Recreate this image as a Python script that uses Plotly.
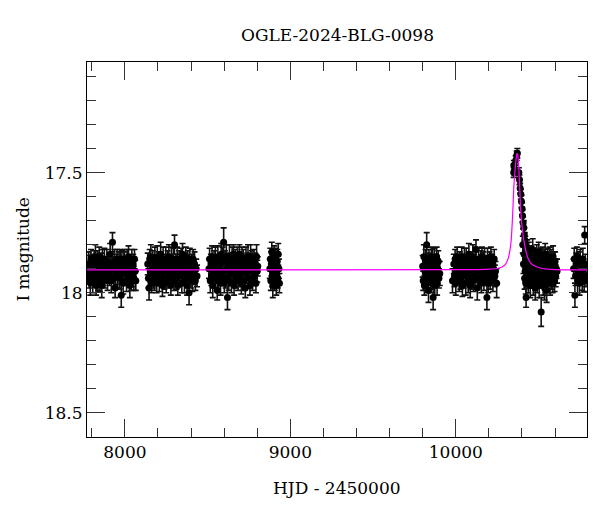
import plotly.graph_objects as go

# OGLE light curve (HJD - 2450000, I mag, error)
hjd_s1 = [7776, 7780, 7784, 7787, 7791, 7795, 7799, 7803, 7806, 7810,
          7814, 7818, 7822, 7826, 7829, 7833, 7837, 7841, 7845, 7849,
          7852, 7856, 7860, 7864, 7868, 7872, 7876, 7879, 7883, 7887,
          7891, 7895, 7899, 7903, 7907, 7911, 7915, 7918, 7922, 7925,
          7929, 7933, 7937, 7941, 7945, 7949, 7953, 7957, 7961, 7965,
          7969, 7973, 7976, 7978, 7982, 7986, 7990, 7994, 7998, 8002,
          8006, 8010, 8014, 8018, 8022, 8026, 8030, 8034, 8038, 8042,
          8046, 8050, 8054, 8058, 8062, 8066]
mag_s1 = [17.91, 17.88, 17.94, 17.89, 17.96, 17.86, 17.92, 17.88, 17.95, 17.90,
          17.87, 17.93, 17.85, 17.97, 17.90, 17.87, 17.94, 17.91, 17.85, 17.95,
          17.92, 17.88, 17.97, 17.86, 17.93, 17.90, 17.86, 17.94, 17.89, 17.91,
          17.87, 17.95, 17.91, 17.88, 17.93, 17.84, 17.90, 17.95, 17.88, 17.79,
          17.89, 17.94, 17.87, 17.98, 17.92, 17.88, 17.86, 17.93, 17.90, 17.87,
          17.94, 17.86, 17.90, 18.01, 17.87, 17.92, 17.96, 17.88, 17.86, 17.91,
          17.90, 17.95, 17.87, 17.93, 17.85, 17.89, 17.97, 17.91, 17.95, 17.87,
          17.93, 17.88, 17.94, 17.86, 17.91, 17.95]
err_s1 = [.04, .05, .04, .045, .05, .04, .045, .04, .05, .04,
          .045, .04, .05, .04, .04, .045, .05, .04, .04, .045,
          .04, .045, .05, .04, .04, .05, .045, .04, .04, .045,
          .05, .04, .045, .04, .04, .045, .04, .05, .04, .04,
          .04, .045, .05, .04, .045, .04, .04, .05, .045, .04,
          .045, .04, .04, .05, .045, .04, .045, .05, .04, .04,
          .04, .045, .05, .04, .045, .04, .05, .045, .04, .05,
          .045, .04, .05, .04, .045, .04]

hjd_s2 = [8138, 8142, 8146, 8150, 8154, 8157, 8161, 8165, 8169, 8173,
          8177, 8181, 8185, 8188, 8192, 8196, 8200, 8204, 8208, 8212,
          8216, 8219, 8223, 8227, 8231, 8235, 8239, 8243, 8247, 8250,
          8254, 8258, 8262, 8266, 8270, 8274, 8278, 8281, 8285, 8289,
          8293, 8297, 8300, 8304, 8308, 8312, 8316, 8320, 8324, 8328,
          8332, 8336, 8340, 8344, 8348, 8352, 8356, 8360, 8364, 8368,
          8372, 8376, 8380, 8384, 8388, 8392, 8396, 8400, 8404, 8408,
          8412, 8417, 8421, 8426, 8431, 8436]
mag_s2 = [17.88, 17.94, 17.98, 17.86, 17.91, 17.85, 17.96, 17.90, 17.87, 17.93,
          17.95, 17.86, 17.91, 17.89, 17.96, 17.85, 17.92, 17.87, 17.95, 17.90,
          17.84, 17.93, 17.89, 17.97, 17.86, 17.91, 17.94, 17.88, 17.86, 17.96,
          17.90, 17.87, 17.94, 17.85, 17.92, 17.89, 17.97, 17.86, 17.93, 17.91,
          17.86, 17.95, 17.80, 17.90, 17.88, 17.94, 17.86, 17.97, 17.91, 17.87,
          17.93, 17.89, 17.86, 17.96, 17.84, 17.92, 17.90, 17.95, 17.88, 17.85,
          17.91, 17.97, 17.87, 17.93, 18.00, 17.86, 17.90, 17.94, 17.89, 17.95,
          17.86, 17.92, 17.88, 17.95, 17.90, 17.93]
err_s2 = [.045, .04, .05, .04, .045, .05, .04, .04, .045, .05,
          .04, .05, .045, .04, .04, .045, .05, .04, .045, .04,
          .05, .04, .04, .045, .05, .04, .045, .04, .05, .04,
          .04, .045, .04, .05, .04, .045, .04, .05, .04, .045,
          .045, .04, .04, .05, .04, .045, .05, .04, .04, .045,
          .04, .05, .045, .04, .045, .04, .04, .05, .045, .04,
          .05, .04, .045, .04, .05, .045, .04, .04, .05, .045,
          .04, .045, .05, .04, .04, .045]

hjd_s3 = [8508, 8512, 8516, 8520, 8523, 8527, 8531, 8535, 8539, 8543,
          8547, 8551, 8555, 8558, 8562, 8566, 8570, 8574, 8578, 8582,
          8586, 8590, 8593, 8597, 8601, 8605, 8609, 8613, 8617, 8620,
          8624, 8628, 8632, 8636, 8640, 8644, 8648, 8652, 8656, 8660,
          8664, 8668, 8672, 8676, 8680, 8684, 8688, 8692, 8696, 8700,
          8704, 8708, 8712, 8716, 8720, 8724, 8728, 8732, 8736, 8740,
          8744, 8748, 8752, 8756, 8760, 8764, 8768, 8772, 8776, 8780,
          8784, 8788, 8792, 8796, 8800, 8803]
mag_s3 = [17.90, 17.86, 17.95, 17.88, 17.93, 17.85, 17.97, 17.91, 17.87, 17.94,
          17.86, 17.92, 17.89, 17.99, 17.85, 17.95, 17.90, 17.88, 17.96, 17.84,
          17.93, 17.86, 17.91, 17.79, 17.96, 17.87, 17.94, 17.85, 17.90, 18.02,
          17.88, 17.95, 17.85, 17.92, 17.89, 17.96, 17.86, 17.91, 17.84, 17.97,
          17.92, 17.87, 17.94, 17.90, 17.86, 17.95, 17.88, 17.84, 17.93, 17.89,
          17.96, 17.85, 17.91, 17.87, 17.95, 17.90, 17.98, 17.86, 17.92, 17.88,
          17.85, 17.94, 17.89, 17.97, 17.85, 17.91, 17.87, 17.95, 17.90, 17.86,
          17.93, 17.88, 17.96, 17.85, 17.91, 17.89]
err_s3 = [.04, .045, .05, .04, .04, .045, .05, .04, .045, .04,
          .05, .04, .045, .04, .045, .05, .04, .04, .05, .045,
          .04, .05, .045, .06, .04, .045, .04, .05, .04, .05,
          .045, .04, .05, .04, .045, .04, .05, .045, .04, .04,
          .04, .05, .04, .045, .05, .04, .045, .04, .045, .05,
          .045, .04, .04, .05, .04, .045, .04, .05, .04, .045,
          .05, .04, .045, .04, .05, .04, .045, .04, .05, .04,
          .04, .045, .04, .05, .045, .04]

hjd_s4 = [8876, 8879, 8882, 8885, 8888, 8891, 8894, 8897, 8900, 8903,
          8906, 8909, 8912, 8915, 8918, 8921, 8924, 8927, 8931, 8934]
mag_s4 = [17.90, 17.86, 17.95, 17.88, 17.83, 17.93, 17.97, 17.86, 17.91, 17.85,
          17.95, 17.89, 17.86, 17.97, 17.92, 17.87, 17.94, 17.84, 17.90, 17.96]
err_s4 = [.04, .045, .04, .05, .04, .045, .05, .04, .04, .045,
          .04, .05, .045, .04, .04, .05, .04, .045, .04, .04]

hjd_s5 = [9800, 9803, 9807, 9810, 9814, 9817, 9821, 9824, 9828, 9831,
          9835, 9838, 9842, 9845, 9849, 9852, 9856, 9859, 9863, 9866,
          9870, 9873, 9877, 9880, 9884, 9887, 9891, 9894, 9898, 9903]
mag_s5 = [17.89, 17.95, 17.85, 17.97, 17.91, 17.86, 17.93, 17.80, 17.96, 17.88,
          17.99, 17.86, 17.92, 17.90, 17.95, 17.85, 17.94, 17.87, 18.02, 17.91,
          17.86, 17.97, 17.89, 17.93, 17.85, 17.96, 17.90, 17.87, 17.94, 17.92]
err_s5 = [.045, .04, .05, .04, .045, .04, .05, .05, .04, .045,
          .05, .04, .045, .04, .05, .04, .045, .05, .05, .04,
          .045, .04, .05, .045, .04, .05, .04, .045, .04, .05]

hjd_s6 = [9980, 9988, 9992, 9996, 10000, 10004, 10008, 10012, 10016, 10020,
          10024, 10028, 10032, 10036, 10040, 10044, 10048, 10052, 10056, 10060,
          10063, 10067, 10071, 10075, 10079, 10083, 10087, 10091, 10095, 10099,
          10103, 10107, 10111, 10115, 10118, 10122, 10126, 10130, 10134, 10138,
          10142, 10146, 10150, 10154, 10158, 10162, 10166, 10170, 10174, 10178,
          10182, 10186, 10188, 10192, 10196, 10200, 10204, 10208, 10212, 10216,
          10220, 10224, 10228, 10232, 10236, 10240, 10247]
mag_s6 = [17.95, 17.88, 17.93, 17.86, 17.96, 17.90, 17.85, 17.92, 17.89, 17.95,
          17.87, 17.94, 17.91, 17.85, 17.97, 17.88, 17.93, 17.86, 17.90, 17.96,
          17.86, 17.92, 17.89, 17.95, 17.84, 17.91, 17.97, 17.87, 17.94, 17.90,
          17.85, 17.95, 17.88, 17.93, 17.86, 17.82, 17.91, 17.98, 17.89, 17.86,
          17.94, 17.90, 17.87, 17.96, 17.85, 17.92, 17.88, 17.95, 17.86, 17.91,
          17.89, 17.93, 18.02, 17.86, 17.96, 17.90, 17.87, 17.94, 17.85, 17.92,
          17.88, 17.95, 17.90, 17.86, 17.93, 17.91, 17.96]
err_s6 = [.05, .04, .045, .04, .05, .045, .04, .04, .05, .045,
          .04, .045, .05, .04, .045, .04, .05, .045, .04, .05,
          .045, .04, .04, .05, .045, .04, .05, .04, .045, .04,
          .05, .045, .04, .04, .05, .04, .045, .05, .04, .045,
          .04, .05, .045, .04, .04, .045, .05, .04, .045, .04,
          .045, .04, .05, .045, .04, .05, .04, .045, .04, .05,
          .04, .045, .05, .04, .045, .04, .06]

hjd_s7 = [10350, 10351, 10355, 10362, 10368, 10372, 10381, 10385, 10389, 10393,
          10397, 10401, 10403, 10405, 10407, 10409, 10411, 10413, 10414, 10416,
          10417, 10419, 10420, 10421, 10423, 10425, 10426, 10428, 10430, 10432,
          10434, 10436, 10438, 10441, 10444, 10447, 10450, 10453, 10456, 10459,
          10462, 10465, 10468, 10471, 10474, 10477, 10480, 10483, 10486, 10489,
          10492, 10495, 10498, 10501, 10504, 10507, 10510, 10513, 10516, 10519,
          10522, 10525, 10528, 10531, 10534, 10537, 10540, 10543, 10546, 10549,
          10552, 10555, 10558, 10561, 10564, 10567, 10570, 10573, 10576, 10579,
          10582, 10585, 10588, 10591, 10594, 10597, 10600, 10604, 10608, 10612]
mag_s7 = [17.50, 17.47, 17.49, 17.45, 17.43, 17.42, 17.50, 17.53, 17.565, 17.59,
          17.62, 17.65, 17.68, 17.80, 17.71, 17.88, 17.73, 17.84, 17.76, 17.94,
          17.78, 17.91, 17.80, 17.86, 17.96, 18.02, 17.83, 17.93, 17.87, 17.82,
          17.90, 17.85, 17.95, 17.83, 17.92, 17.88, 17.97, 17.85, 17.94, 17.87,
          17.91, 17.82, 17.96, 17.89, 17.86, 17.93, 17.98, 17.86, 17.90, 17.84,
          17.95, 17.88, 17.92, 17.83, 17.97, 17.87, 17.91, 17.86, 18.08, 17.94,
          17.89, 17.85, 17.96, 17.90, 17.86, 17.98, 17.84, 17.93, 17.88, 17.99,
          17.91, 17.86, 17.95, 17.87, 17.92, 17.85, 17.96, 17.89, 17.86, 17.94,
          17.90, 17.96, 17.85, 17.92, 17.88, 17.95, 17.87, 17.93, 17.90, 17.91]
err_s7 = [.02, .02, .02, .02, .02, .02, .02, .02, .02, .02,
          .025, .025, .025, .035, .025, .04, .03, .04, .03, .045,
          .03, .045, .035, .04, .045, .04, .04, .045, .04, .04,
          .045, .04, .05, .04, .045, .04, .05, .045, .04, .045,
          .04, .045, .05, .04, .045, .04, .05, .04, .045, .04,
          .05, .04, .045, .04, .05, .045, .04, .045, .06, .04,
          .045, .04, .05, .045, .04, .05, .045, .04, .045, .05,
          .04, .045, .05, .04, .045, .04, .05, .045, .04, .045,
          .05, .04, .045, .04, .05, .045, .04, .045, .04, .05]

hjd_s8 = [10712, 10716, 10720, 10724, 10728, 10732, 10736, 10740, 10744, 10748,
          10752, 10756, 10760, 10764, 10768, 10772, 10776, 10779, 10783, 10787]
mag_s8 = [17.90, 17.86, 18.01, 17.93, 17.88, 17.85, 17.95, 17.91, 17.87, 17.96,
          17.86, 17.92, 17.89, 17.94, 17.86, 17.90, 17.95, 17.76, 17.88, 17.93]
err_s8 = [.04, .045, .05, .04, .045, .04, .05, .045, .04, .05,
          .04, .045, .04, .05, .045, .04, .045, .035, .04, .045]

# microlensing model curve (magenta)
model_hjd = [7772, 10100, 10200, 10250, 10280, 10300, 10317, 10327, 10335, 10341,
             10346, 10350, 10355, 10361, 10366, 10370, 10374, 10379, 10385, 10391,
             10397, 10404, 10411, 10420, 10428, 10437, 10453, 10480, 10514, 10580,
             10700, 10793]
model_mag = [17.905, 17.904, 17.902, 17.899, 17.893, 17.882, 17.857, 17.825, 17.78, 17.71,
             17.64, 17.57, 17.515, 17.468, 17.435, 17.42, 17.425, 17.46, 17.54, 17.64,
             17.70, 17.745, 17.78, 17.815, 17.838, 17.857, 17.877, 17.89, 17.898, 17.903,
             17.905, 17.905]

hjd = hjd_s1 + hjd_s2 + hjd_s3 + hjd_s4 + hjd_s5 + hjd_s6 + hjd_s7 + hjd_s8
mag = mag_s1 + mag_s2 + mag_s3 + mag_s4 + mag_s5 + mag_s6 + mag_s7 + mag_s8
err = err_s1 + err_s2 + err_s3 + err_s4 + err_s5 + err_s6 + err_s7 + err_s8

FONT = "DejaVu Serif"

fig = go.Figure()
fig.add_trace(go.Scatter(
    x=hjd, y=mag, mode="markers",
    marker=dict(color="black", size=7),
    error_y=dict(type="data", array=err, color="#111", thickness=1.6, width=3),
    showlegend=False,
))
fig.add_trace(go.Scatter(
    x=model_hjd, y=model_mag, mode="lines",
    line=dict(color="#ff00ff", width=1.2, shape="spline", smoothing=0.6),
    showlegend=False,
))

axis_style = dict(
    showline=True, linecolor="black", linewidth=1, mirror="allticks",
    ticks="inside", ticklen=18, tickcolor="#333", tickwidth=1,
    showgrid=False, zeroline=False,
    tickfont=dict(family=FONT, size=17, color="black"),
)
fig.update_xaxes(range=[7771, 10793], dtick=1000, tick0=0, tickformat="d",
                 minor=dict(dtick=200, ticks="inside", ticklen=9, tickcolor="#333"),
                 **axis_style)
fig.update_yaxes(range=[18.6, 17.04], dtick=0.5, tick0=0,
                 minor=dict(dtick=0.1, ticks="inside", ticklen=9, tickcolor="#333"),
                 **axis_style)

fig.add_annotation(text="HJD - 2450000", xref="paper", yref="paper", x=0.5, y=-0.136,
                   showarrow=False, yanchor="middle", font=dict(family=FONT, size=17, color="black"))
fig.add_annotation(text="I magnitude", xref="paper", yref="paper", x=-0.13, y=0.5,
                   showarrow=False, textangle=-90, xanchor="center",
                   font=dict(family=FONT, size=17, color="black"))
fig.add_annotation(text="OGLE-2024-BLG-0098", xref="paper", yref="paper", x=0.5, y=1.072,
                   showarrow=False, yanchor="middle", font=dict(family=FONT, size=17, color="black"))

# page body adds an 8px offset, so the figure is 8px smaller on each shifted side
fig.update_layout(
    width=592, height=504,
    margin=dict(l=79, r=13, t=54, b=75),
    plot_bgcolor="white", paper_bgcolor="white",
)

fig.write_html("out.html")
